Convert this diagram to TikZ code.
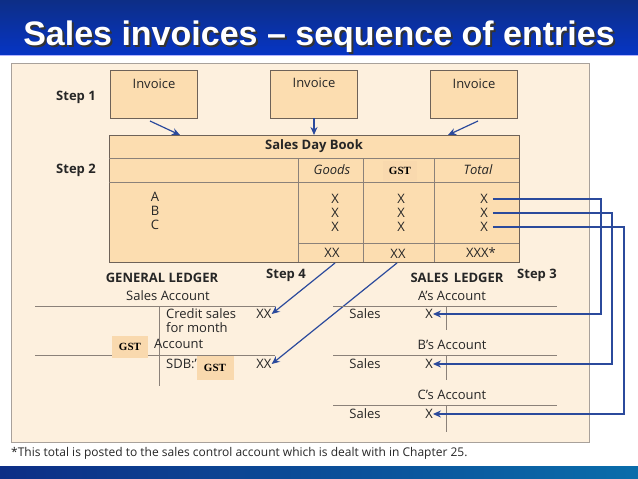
\documentclass[tikz,border=0pt]{standalone}
\usepackage{fontspec}
\setmainfont{Open Sans}
\newfontfamily\titlefont{Liberation Sans}
\newfontfamily\gstfont{Liberation Serif}
\usetikzlibrary{arrows.meta,shadows}
\definecolor{panel}{HTML}{FDF0DE}
\definecolor{boxfill}{HTML}{FCDDB0}
\definecolor{edge}{HTML}{6E6258}
\definecolor{arr}{HTML}{2B4A9C}
\definecolor{bar}{HTML}{0D2E86}
\definecolor{badge}{HTML}{F9D9AE}
\tikzset{
 txt/.style={font=\fontsize{13}{14}\selectfont,inner sep=0pt,text=black!85},
 bold/.style={txt,font=\fontsize{13}{14}\selectfont\bfseries},
 invbox/.style={draw=edge,fill=boxfill,line width=0.6pt},
 rule/.style={draw=edge!80,line width=0.7pt},
 conn/.style={draw=arr,line width=1.2pt,-{Stealth[length=8pt,width=7pt]}},
 badgebox/.style={fill=badge,inner sep=0pt,font=\gstfont\bfseries\fontsize{11}{12}\selectfont}
}
\begin{document}
\begin{tikzpicture}[x=1pt,y=-1pt]
\useasboundingbox (0,0) rectangle (638,479);
\fill[white] (0,0) rectangle (638,479);
% title bar
\shade[top color=bar,bottom color=bar!80!cyan!60!blue] (0,0) rectangle (638,55);
\draw[white!70!blue,line width=0.8pt] (0,55.5) -- (638,55.5);
\node (titleshadow) [text=black!80,font=\titlefont\bfseries\fontsize{34}{36}\selectfont,inner sep=0pt] at (321,39) {\phantom{S}};
\begin{scope}[shift={(2,2)}]
\node[text=black!80,font=\titlefont\bfseries\fontsize{34}{36}\selectfont,inner sep=0pt] at (319,37) {Sales invoices – sequence of entries};
\end{scope}
\node (title) [text=white,font=\titlefont\bfseries\fontsize{34}{36}\selectfont,inner sep=0pt] at (319,37) {Sales invoices – sequence of entries};
% bottom bar
\shade[left color=bar,right color=bar!70!cyan] (0,466) rectangle (638,479);
% panel
\draw[fill=panel,draw=edge!60,line width=0.6pt] (11,63) rectangle (589,442);
% step labels
\node[bold] (s1) at (76,97) {Step 1};
\node[bold] (s2) at (76,170) {Step 2};
% invoices
\node (i1) [invbox,minimum width=87pt,minimum height=48pt] at (154,94) {};
\node (i2) [invbox,minimum width=87pt,minimum height=48pt] at (314,94) {};
\node (i3) [invbox,minimum width=87pt,minimum height=48pt] at (474,94) {};
\node[txt] at (154,84) {Invoice};
\node[txt] at (314,83) {Invoice};
\node[txt] at (474,84) {Invoice};
% day book
\node (sdb) [draw=edge,fill=boxfill,line width=0.6pt,minimum width=410pt,minimum height=127pt] at (314,198.5) {};
\draw[rule] (109,158) -- (519,158);
\draw[rule] (109,182) -- (519,182);
\draw[rule] (298,243) -- (519,243);
\draw[rule] (298,158) -- (298,262);
\draw[rule] (363,158) -- (363,262);
\draw[rule] (434,158) -- (434,262);
\node[bold] at (314,146) {Sales Day Book};
\node[txt,font=\fontsize{13}{14}\selectfont\itshape] at (332,170) {Goods};
\node[badgebox,minimum width=34pt,minimum height=20pt] at (400,171) {GST};
\node[txt,font=\fontsize{13}{14}\selectfont\itshape] at (478,170) {Total};
\foreach \y/\l in {197/A,211/B,225/C}{\node[txt] at (155,\y) {\l};}
\foreach \y in {199,213,227}{
 \node[txt] at (335,\y) {X};
 \node[txt] at (401,\y) {X};
}
\node[txt] (ta) at (484,199) {X};
\node[txt] (tb) at (484,213) {X};
\node[txt] (tc) at (484,227) {X};
\node[txt] (xg) at (332,253) {XX};
\node[txt] (xs) at (398,254) {XX};
\node[txt] at (481,253) {XXX*};
% invoice arrows
\draw[conn] (150,121) -- (180,135);
\draw[conn] (314,118) -- (314,135);
\draw[conn] (478,121) -- (448,135);
% general ledger
\node[bold] at (162,278) {GENERAL LEDGER};
\node[bold] at (286,275) {Step 4};
\node[txt] at (168,296) {Sales Account};
\draw[rule] (35,306) -- (275,306);
\draw[rule] (159,306) -- (159,386);
\node[txt,anchor=west] at (166,314) {Credit sales};
\node[txt,anchor=west] at (166,328) {for month};
\node[txt,anchor=west] at (154,344) {Account};
\draw[rule] (35,355) -- (275,355);
\node[txt,anchor=west] at (166,364) {SDB:'};
\node[badgebox,minimum width=36pt,minimum height=22pt] at (130,347) {GST};
\node[badgebox,minimum width=37pt,minimum height=24pt] at (215,368) {GST};
\node[txt] (gx1) at (264,314) {XX};
\node[txt] (gx2) at (264,364) {XX};
\coordinate (g1) at (335,263);
\coordinate (g2) at (397,263);
\draw[conn] (g1) -- (gx1.east);
\draw[conn] (g2) -- (gx2.east);
% sales ledger
\node[bold] at (457,278) {SALES\, LEDGER};
\node[bold] at (537,275) {Step 3};
\node[txt] at (452,296) {A's Account};
\node[txt] at (452,345) {B's Account};
\node[txt] at (452,395) {C's Account};
\draw[rule] (333,306) -- (557,306);
\draw[rule] (333,355) -- (557,355);
\draw[rule] (333,405) -- (557,405);
\draw[rule] (446,306) -- (446,330);
\draw[rule] (446,355) -- (446,380);
\draw[rule] (446,405) -- (446,432);
\foreach \y in {314,364,414}{\node[txt] at (365,\y) {Sales};}
\node[txt] (sa) at (429,314) {X};
\node[txt] (sb) at (429,364) {X};
\node[txt] (sc) at (429,414) {X};
\draw[conn] (ta.east) ++(5,0) -- ++(108,0) |- (sa.east);
\draw[conn] (tb.east) ++(5,0) -- ++(119,0) |- (sb.east);
\draw[conn] (tc.east) ++(5,0) -- ++(131,0) |- (sc.east);
% footnote
\node[txt,anchor=west,font=\fontsize{12}{13}\selectfont] at (11,453) {*This total is posted to the sales control account which is dealt with in Chapter 25.};
\end{tikzpicture}
\end{document}
